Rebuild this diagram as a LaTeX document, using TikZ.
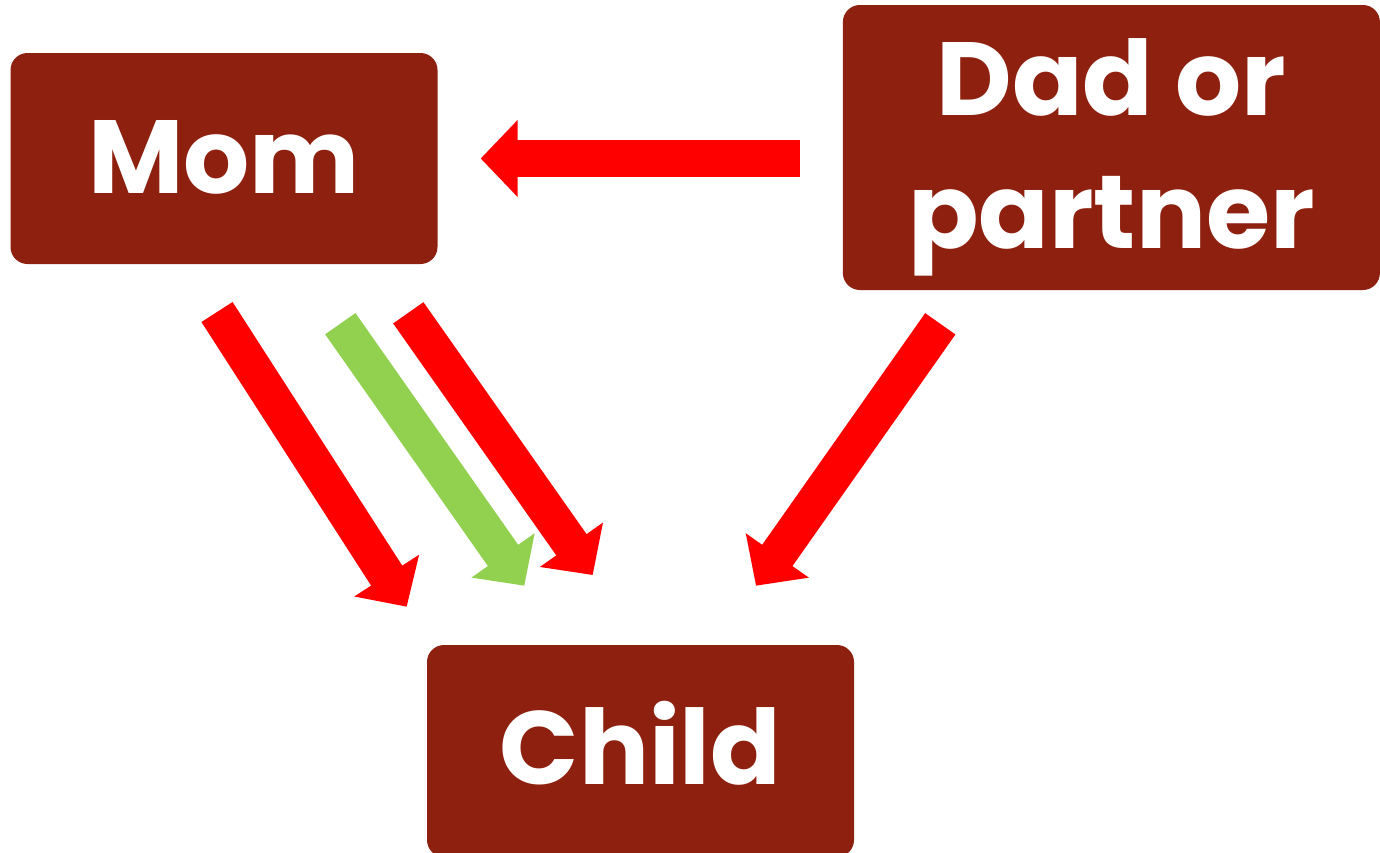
\documentclass[tikz,border=0pt]{standalone}
\usepackage{fontspec}
\setmainfont{Poppins}
\usetikzlibrary{arrows.meta}
\usetikzlibrary{positioning}
\definecolor{boxred}{RGB}{141,32,14}
\definecolor{linkred}{RGB}{255,0,0}
\definecolor{linkgreen}{RGB}{146,208,80}
\tikzset{
    person/.style={rectangle, rounded corners=17pt, fill=boxred, text=white, inner sep=0pt,
        align=center, font=\bfseries\fontsize{104}{133}\selectfont, text depth=0pt},
    bigarrow/.style={line width=37pt, -{Triangle[length=37pt, width=75pt]}},
}

\begin{document}
\begin{tikzpicture}[x=1pt, y=-1pt]

            \useasboundingbox (0,0) rectangle (1380,852);

            % People
            \node[person, minimum width=427pt, minimum height=211pt, text height=69pt] (mom) at (224,158.5) {Mom};
            \node[person, minimum width=537pt, minimum height=285pt, text height=201pt, right=405pt of mom, yshift=11pt] (dad) {Dad or\\partner};
            \node[person, minimum width=427pt, minimum height=212pt, text height=67pt] (child) at (640.5,751) {Child};

            % Free ends of the arrows
            \coordinate (momA) at (217,312);
            \coordinate (childA) at (406.7,606.7);
            \coordinate (momB) at (340.3,323.7);
            \coordinate (childB) at (524.3,585.7);
            \coordinate (momC) at (408.3,312.8);
            \coordinate (childC) at (592.7,575);
            \coordinate (dadD) at (940.3,323.8);
            \coordinate (childD) at (756,585.7);

            % Relationships
            \draw[bigarrow, linkred, shorten <=43pt, shorten >=43pt] (mom.east -| dad.west) -- (mom.east);
            \draw[bigarrow, linkred] (momA) -- (childA);
            \draw[bigarrow, linkgreen] (momB) -- (childB);
            \draw[bigarrow, linkred] (momC) -- (childC);
            \draw[bigarrow, linkred] (dadD) -- (childD);

        \end{tikzpicture}
\end{document}
